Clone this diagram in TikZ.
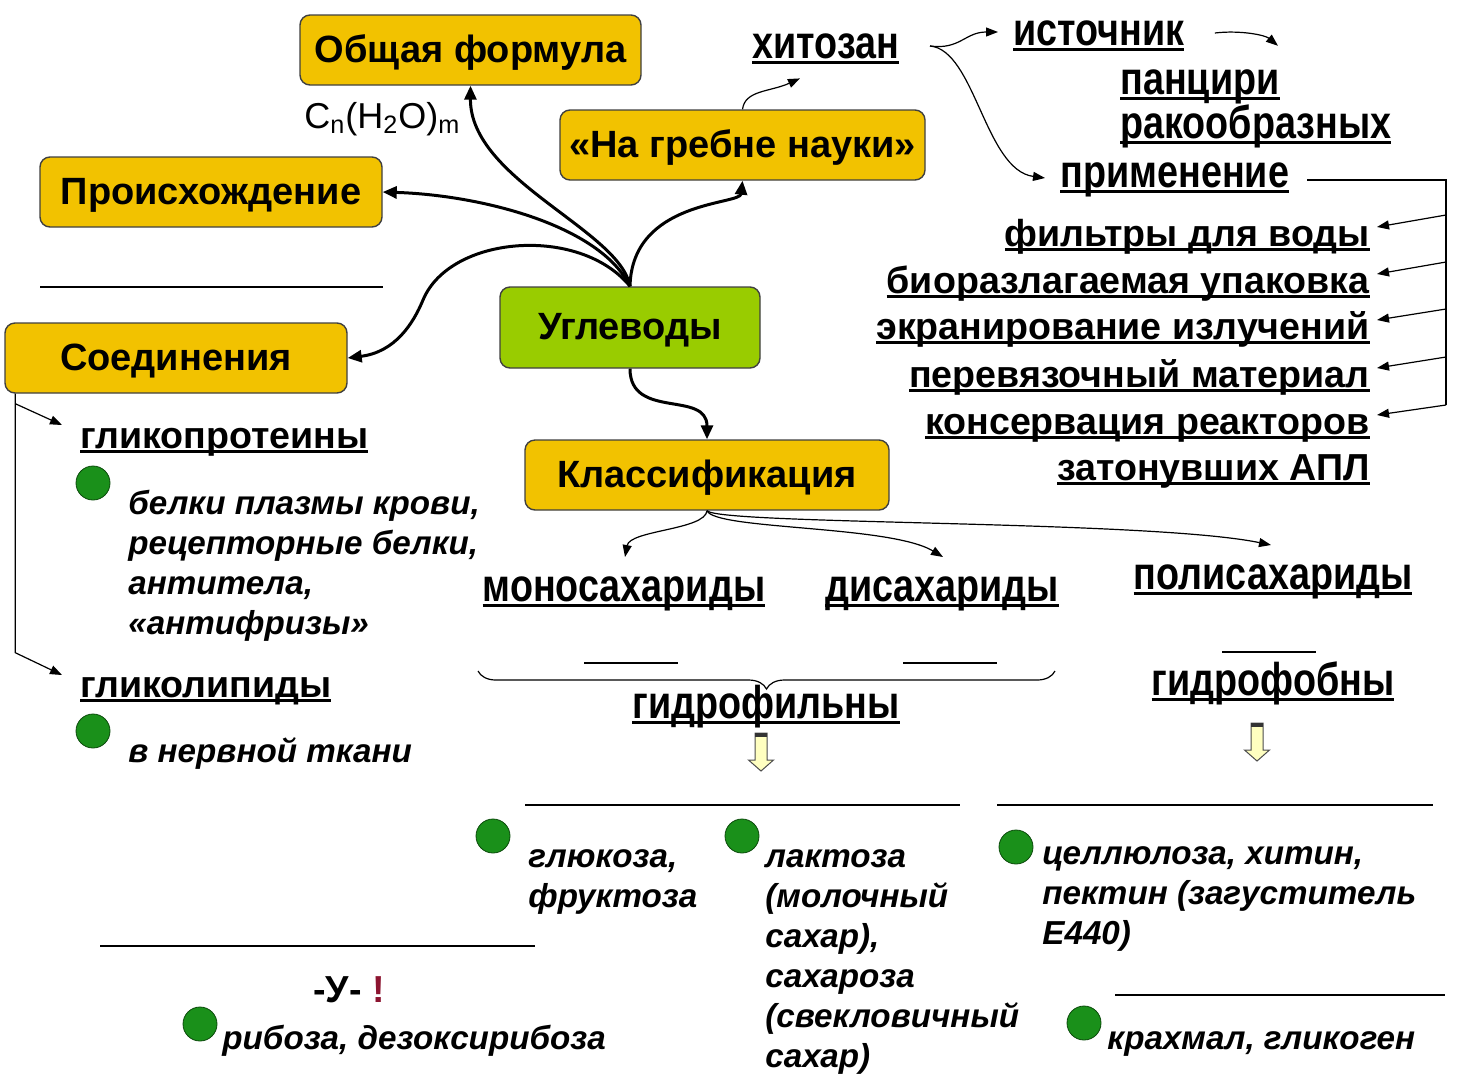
\documentclass[tikz,border=0pt]{standalone}
\usepackage{fontspec}
\setmainfont{Liberation Sans}
\newfontfamily\narrowfont[FakeStretch=0.82]{Liberation Sans}
\usetikzlibrary{arrows.meta,calc,decorations.pathreplacing}
\definecolor{cbGold}{HTML}{F2C200}
\definecolor{cbLime}{HTML}{99CC00}
\definecolor{cbDot}{HTML}{1A901A}
\definecolor{cbDotEdge}{HTML}{0B4A0B}
\definecolor{cbRed}{HTML}{8C1430}
\definecolor{cbPale}{HTML}{FFFFC0}
\newcommand\undl[1]{\setbox0\hbox{#1}\rlap{\rule[-0.13em]{\wd0}{0.07em}}\box0}

\begin{document}
\begin{tikzpicture}[x=0.5pt,y=-0.5pt,
  box/.style={draw=black!75,line width=0.7pt,rounded corners=5pt,fill=cbGold,
    minimum height=35pt,inner sep=0pt,text height=16.5pt,text depth=4.2pt,
    font=\fontsize{19}{23}\selectfont\bfseries},
  head/.style={inner sep=0pt,font=\narrowfont\fontsize{23}{27}\selectfont\bfseries},
  item/.style={inner sep=0pt,font=\fontsize{18.8}{23}\selectfont\bfseries},
  note/.style={inner sep=0pt,align=left,anchor=base west,
    font=\fontsize{16.6}{20}\selectfont\bfseries\itshape},
  dot/.style={circle,draw=cbDotEdge,fill=cbDot,minimum size=17pt,inner sep=0pt},
  bigarr/.style={-{Triangle[length=7pt,width=6pt]},line width=1.5pt},
  thinarr/.style={-{Triangle[length=6pt,width=4.5pt]},line width=0.6pt},
  rule/.style={line width=0.6pt}]
\useasboundingbox (0,0) rectangle (1459,1082);

\node[box,minimum width=170.5pt] (formula) at (470.5,50) {Общая формула};
\node[box,minimum width=182.5pt] (nauka) at (742.5,145) {«На гребне науки»};
\node[box,minimum width=171pt] (origin) at (211,192) {Происхождение};
\node[box,minimum width=171pt] (compounds) at (176,358) {Соединения};
\node[box,fill=cbLime,minimum width=130pt,minimum height=40.5pt] (carbs) at (630,327.5) {Углеводы};
\node[box,minimum width=182pt] (classif) at (707,475) {Классификация};

\node[inner sep=0pt,anchor=base west,font=\fontsize{18}{20}\selectfont] (fmla) at (304,128)
  {C\textsubscript{n}(H\textsubscript{2}O)\textsubscript{m}};
\draw[rule] (40,287) -- (383,287);

\draw[bigarr] (carbs.north) .. controls (620,230) and (470,180) .. (formula.south);
\draw[bigarr] (carbs.north) .. controls (600,225) and (480,195) .. (origin.east);
\draw[bigarr] (carbs.north) .. controls (580,225) and (450,235) .. (423,300)
  .. controls (413,324) and (395,352) .. (compounds.east);
\draw[bigarr] (carbs.north) .. controls (632,200) and (740,205) .. (nauka.south);
\draw[bigarr] (carbs.south) .. controls (630,420) and (707,390) .. (classif.north);

\node[head,anchor=base west] (chitosan) at (752,58) {\undl{хитозан}};
\node[head,anchor=base west] (source) at (1013,45) {\undl{источник}};
\node[head,anchor=base west] (shell) at (1120,94) {\undl{панцири}};
\node[head,anchor=base west] (crust) at (1120,138) {\undl{ракообразных}};
\node[head,anchor=base west] (apply) at (1060,187) {\undl{применение}};
\coordinate (fork) at (930,46);

\draw[thinarr] (nauka.north) .. controls (745,90) and (770,92) .. ($(chitosan.south west)+(48,14)$);
\draw[thinarr] (fork) .. controls (960,50) and (965,32) .. ($(source.base west)+(-15,-13)$);
\draw[thinarr] (fork) .. controls (975,50) and (985,170) .. ($(apply.base west)+(-15,-9)$);
\draw[thinarr] ($(source.base east)+(30,-12)$) .. controls (1240,30) and (1265,35) .. ($(shell.north east)+(-2,-23)$);

\node[item,anchor=base east] (filt) at (1370,246) {\undl{фильтры для воды}};
\node[item,anchor=base east] (pack) at (1370,293) {\undl{биоразлагаемая упаковка}};
\node[item,anchor=base east] (shield) at (1370,339) {\undl{экранирование излучений}};
\node[item,anchor=base east] (dress) at (1370,387) {\undl{перевязочный материал}};
\node[item,anchor=base east] (conserv) at (1370,434) {\undl{консервация реакторов}};
\node[item,anchor=base east] (apl) at (1370,480) {\undl{затонувших АПЛ}};

\coordinate (rtop) at (1446,180);
\coordinate (rbot) at (1446,405);
\draw[rule] ($(apply.base east)+(18,-7)$) -- (rtop) -- (rbot);
\foreach \n/\dy in {filt/35,pack/82,shield/129,dress/177,conserv/225}
  \draw[thinarr] ($(rtop)+(0,\dy)$) -- ($(\n.base east)+(7,-19)$);

\node[item,anchor=base west] (glyp) at (80,448) {\undl{гликопротеины}};
\node[item,anchor=base west] (glyl) at (80,697) {\undl{гликолипиды}};
\coordinate (ltop) at ($(compounds.south west)+(11,0)$);
\draw[thinarr] (ltop) -- ($(ltop)+(0,259)$) -- ($(glyl.base west)+(-18,-22)$);
\draw[thinarr] ($(ltop)+(0,10)$) -- ($(glyp.base west)+(-18,-23)$);

\node[dot] (d1) at (93,483) {};
\node[dot] (d2) at (93,731) {};
\node[note] (plasma) at (128,634) {белки плазмы крови,\\рецепторные белки,\\антитела,\\«антифризы»};
\node[note] (nerve) at (128,762) {в нервной ткани};

\node[head,anchor=base] (mono) at (624,601) {\undl{моносахариды}};
\node[head,anchor=base] (di) at (942,601) {\undl{дисахариды}};
\node[head,anchor=base] (poly) at (1273,589) {\undl{полисахариды}};
\draw[thinarr] (classif.south) .. controls (705,530) and (630,530) .. ($(mono.base)+(1,-44)$);
\draw[thinarr] (classif.south) .. controls (715,530) and (890,525) .. ($(di.base)+(1,-44)$);
\draw[thinarr] (classif.south) .. controls (720,525) and (1150,520) .. ($(poly.base)+(-2,-44)$);

\draw[rule] (584,663) -- (678,663);
\draw[rule] (903,663) -- (997,663);
\draw[rule] (1222,652) -- (1316,652);
\draw[rule,decorate,decoration={brace,mirror,amplitude=9pt}] (478,671) -- (1055,671);
\node[head,anchor=base] (hphil) at (766,718) {\undl{гидрофильны}};
\node[head,anchor=base] (hphob) at (1273,695) {\undl{гидрофобны}};

\foreach \cx/\ty in {761/733,1257/723} {
  \filldraw[fill=cbPale,draw=black!70,line width=0.5pt] (\cx-6,\ty) -- (\cx+6,\ty) -- (\cx+6,\ty+27)
    -- (\cx+12.5,\ty+27) -- (\cx,\ty+38) -- (\cx-12.5,\ty+27) -- (\cx-6,\ty+27) -- cycle;
  \fill[black!80] (\cx-6,\ty) rectangle (\cx+6,\ty+4);
}

\draw[rule] (525,805) -- (960,805);
\draw[rule] (997,805) -- (1433,805);
\draw[rule] (100,946) -- (535,946);
\draw[rule] (1115,995) -- (1445,995);

\node[dot] (d3) at (493,836) {};
\node[dot] (d4) at (742,836) {};
\node[dot] (d5) at (1016,847) {};
\node[dot] (d6) at (200,1024) {};
\node[dot] (d7) at (1084,1023) {};
\node[note] (gluc) at (528,907) {глюкоза,\\фруктоза};
\node[note] (lact) at (765,1067) {лактоза\\(молочный\\сахар),\\сахароза\\(свекловичный\\сахар)};
\node[note] (cell) at (1042,944) {целлюлоза, хитин,\\пектин (загуститель\\Е440)};
\node[note] (starch) at (1107,1049) {крахмал, гликоген};
\node[note] (ribo) at (222,1049) {рибоза, дезоксирибоза};
\node[item,anchor=base west] (ymark) at (313,1002) {-У-\ {\color{cbRed}!}};
\end{tikzpicture}
\end{document}
